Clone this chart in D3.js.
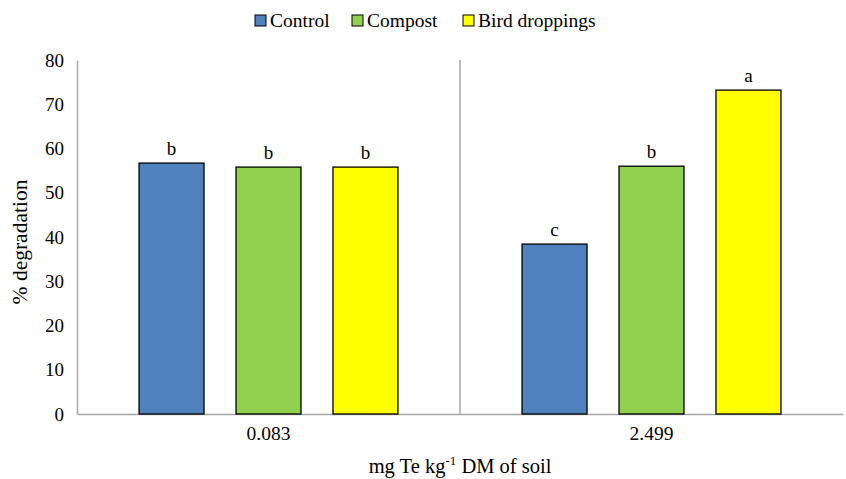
<!DOCTYPE html>
<html>
<head>
<meta charset="utf-8">
<script src="https://cdn.jsdelivr.net/npm/d3@7"></script>
<style>
  body { margin: 0; background: #fff; }
  text { font-family: "Liberation Serif", "Times New Roman", serif; fill: #000; }
</style>
</head>
<body>
<div class="chart"></div>
<script>
const doses = ["0.083", "2.499"];
const treatments = ["Control", "Compost", "Bird droppings"];
const colors = ["#4F81BD", "#92D050", "#FFFF00"];
const values = {
  "0.083": [56.7, 55.8, 55.8],
  "2.499": [38.4, 56.0, 73.2]
};
const letters = {
  "0.083": ["b", "b", "b"],
  "2.499": ["c", "b", "a"]
};
const yTicks = [0, 10, 20, 30, 40, 50, 60, 70, 80];

const width = 846, height = 479;
const margin = {top: 60, right: 3, bottom: 65, left: 77};

const svg = d3.select(".chart").append("svg")
    .attr("width", width)
    .attr("height", height);

const x0 = d3.scaleBand()
    .domain(doses)
    .range([margin.left, width - margin.right])
    .padding(0);

const x1 = d3.scaleBand()
    .domain(treatments)
    .range([0, x0.bandwidth()])
    .paddingInner(0.33)
    .paddingOuter(0.64);

const y = d3.scaleLinear()
    .domain([0, 80])
    .range([height - margin.bottom, margin.top]);

// y axis labels (no ticks)
const yAxis = d3.axisLeft(y).tickValues(yTicks).tickSize(0).tickPadding(13);
svg.append("g")
    .attr("transform", `translate(${margin.left},0)`)
    .call(yAxis)
    .call(g => g.select(".domain").attr("stroke", "#a6a6a6").attr("stroke-width", 1.5))
    .selectAll("text")
    .attr("font-size", 19)
    .style("font-family", "Liberation Serif");

// x axis
const xAxis = d3.axisBottom(x0).tickSize(0).tickPadding(12);
svg.append("g")
    .attr("transform", `translate(0,${y(0)})`)
    .call(xAxis)
    .call(g => g.select(".domain").attr("stroke", "#a6a6a6").attr("stroke-width", 1.5))
    .selectAll("text")
    .attr("font-size", 19.5)
    .style("font-family", "Liberation Serif");

// separator between groups
svg.append("line")
    .attr("x1", x0("2.499")).attr("x2", x0("2.499"))
    .attr("y1", y(80)).attr("y2", y(0))
    .attr("stroke", "#a6a6a6")
    .attr("stroke-width", 1.5);

const groups = svg.append("g")
    .selectAll("g")
    .data(doses)
    .join("g")
    .attr("transform", d => `translate(${x0(d)},0)`);

groups.selectAll("rect")
    .data(d => treatments.map((t, i) => ({t, i, v: values[d][i]})))
    .join("rect")
    .attr("x", d => x1(d.t))
    .attr("y", d => y(d.v))
    .attr("width", x1.bandwidth())
    .attr("height", d => y(0) - y(d.v))
    .attr("fill", d => colors[d.i])
    .attr("stroke", "#000")
    .attr("stroke-width", 1.3);

groups.selectAll("text.lbl")
    .data(d => treatments.map((t, i) => ({t, v: values[d][i], l: letters[d][i]})))
    .join("text")
    .attr("class", "lbl")
    .attr("x", d => x1(d.t) + x1.bandwidth() / 2)
    .attr("y", d => y(d.v) - 8)
    .attr("text-anchor", "middle")
    .attr("font-size", 19)
    .text(d => d.l);

// axis titles
svg.append("text")
    .attr("transform", `translate(27,242) rotate(-90)`)
    .attr("text-anchor", "middle")
    .attr("font-size", 21.5)
    .text("% degradation");

const xt = svg.append("text")
    .attr("x", 460)
    .attr("y", 473)
    .attr("text-anchor", "middle")
    .attr("font-size", 20.5);
xt.append("tspan").text("mg Te kg");
xt.append("tspan").attr("font-size", 13).attr("dy", -8).text("-1");
xt.append("tspan").attr("dy", 8).text(" DM of soil");

// legend
const legendX = [255, 352, 463];
const legend = svg.append("g")
    .selectAll("g")
    .data(treatments)
    .join("g")
    .attr("transform", (d, i) => `translate(${legendX[i]},20)`);

legend.append("rect")
    .attr("x", 0).attr("y", -5)
    .attr("width", 11).attr("height", 11)
    .attr("fill", (d, i) => colors[i])
    .attr("stroke", "#000")
    .attr("stroke-width", 1);

legend.append("text")
    .attr("x", 15)
    .attr("y", 0)
    .attr("dy", "0.35em")
    .attr("font-size", 19.5)
    .text(d => d);
</script>
</body>
</html>
